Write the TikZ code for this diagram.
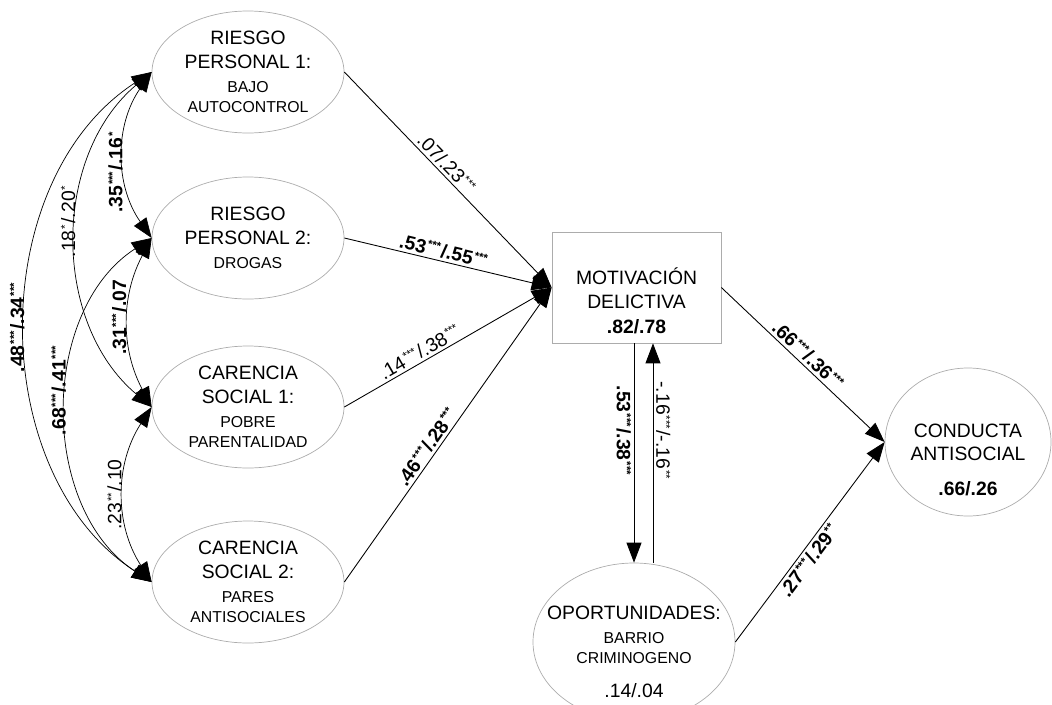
\documentclass[tikz,border=0pt]{standalone}
\usepackage{fontspec}
\setmainfont{Liberation Sans}
\usetikzlibrary{arrows.meta,shapes.geometric}

\newcommand{\sig}[1]{\kern.6pt\raisebox{.6ex}{\fontsize{6.5}{7}\selectfont#1}\kern.8pt}
\newcommand{\subtxt}[1]{{\fontsize{9}{11}\selectfont#1}}

\begin{document}
\begin{tikzpicture}[
    >={Triangle[length=0.4cm,width=0.3cm]},
    latent/.style={draw=gray!65, ellipse, minimum width=3.84cm, minimum height=2.44cm,
      inner sep=0pt, align=center, font=\fontsize{11}{13.5}\selectfont},
    obs/.style={draw=gray!65, rectangle, minimum width=3.38cm, minimum height=2.22cm},
    txt/.style={align=center, inner sep=0pt, font=\fontsize{11}{13.5}\selectfont},
    effect/.style={->, line width=0.5pt},
    lbl/.style={font=\fontsize{11}{12}\selectfont, inner sep=1.5pt},
    blbl/.style={lbl, font=\fontsize{11}{12}\selectfont\bfseries},
    arclbl/.style={rotate=90, anchor=south, inner sep=1pt}
  ]
  \useasboundingbox (0,0) rectangle (21.04,-14.08);

  % exogenous factors
  \node[latent] (rp1) at (4.96,-1.44) {RIESGO\\PERSONAL 1:\\\subtxt{BAJO}\\[-2pt]\subtxt{AUTOCONTROL}};
  \node[latent] (rp2) at (4.96,-4.76) {RIESGO\\PERSONAL 2:\\\subtxt{DROGAS}};
  \node[latent] (cs1) at (4.96,-8.14) {CARENCIA\\SOCIAL 1:\\\subtxt{POBRE}\\[-2pt]\subtxt{PARENTALIDAD}};
  \node[latent] (cs2) at (4.96,-11.64) {CARENCIA\\SOCIAL 2:\\\subtxt{PARES}\\[-2pt]\subtxt{ANTISOCIALES}};

  % mediators and outcome
  \node[obs] (mot) at (12.73,-5.75) {};
  \node[txt] (mottxt) at (12.73,-6.02) {MOTIVACIÓN\\DELICTIVA\\[1pt]\textbf{.82/.78}};

  \node[latent, minimum width=4.04cm, minimum height=3.16cm] (opp) at (12.68,-12.84) {};
  \node[txt] (opptxt) at (12.68,-13.04) {OPORTUNIDADES:\\\subtxt{BARRIO}\\[-2pt]\subtxt{CRIMINOGENO}\\[6pt].14/.04};

  \node[latent, minimum width=3.32cm, minimum height=2.96cm] (cond) at (19.36,-8.84) {};
  \node[txt] (condtxt) at (19.36,-9.19) {CONDUCTA\\ANTISOCIAL\\[6pt]\textbf{.66/.26}};

  % covariances
  \draw[<->] (rp1.west) to[bend right=35] node[blbl, arclbl, pos=.6] {.35\sig{***}/.16\sig{*}} (rp2.west);
  \draw[<->] (rp2.west) to[bend right=28] node[blbl, arclbl, pos=.47] {.31\sig{***}/.07} (cs1.west);
  \draw[<->] (cs1.west) to[bend right=33] node[lbl, arclbl] {.23\sig{**}/.10} (cs2.west);
  \draw[<->] (rp1.west) to[bend right=50] node[lbl, arclbl, pos=.45] {.18\sig{*}/.20\sig{*}} (cs1.west);
  \draw[<->] (rp2.west) to[bend right=57] node[blbl, arclbl, pos=.45] {.68\sig{***}/.41\sig{***}} (cs2.west);
  \draw[<->] (rp1.west) to[bend right=57] node[blbl, arclbl] {.48\sig{***}/.34\sig{***}} (cs2.west);

  % paths to motivation
  \draw[effect] (rp1.east) -- node[lbl, sloped, above, pos=.46] {.07/.23\sig{***}} (mot.west);
  \draw[effect] (rp2.east) -- node[blbl, sloped, above, pos=.47] {.53\sig{***}/.55\sig{***}} (mot.west);
  \draw[effect] (cs1.east) -- node[lbl, sloped, above, pos=.39] {.14\sig{***}/.38\sig{***}} (mot.west);
  \draw[effect] (cs2.east) -- node[blbl, sloped, above, pos=.44] {.46\sig{***}/.28\sig{***}} (mot.west);

  % motivation <-> opportunities
  \coordinate (upbot) at ([xshift=0.38cm]opp.north);
  \coordinate (uptop) at (upbot |- mot.south);
  \draw[effect] (mot.south -| opp.north) -- node[blbl, pos=.4, rotate=-90, anchor=north] {.53\sig{***}/.38\sig{***}} (opp.north);
  \draw[effect] (upbot) -- node[lbl, pos=.6, rotate=-90, anchor=south] {-.16\sig{***}/-.16\sig{**}} (uptop);

  % paths to antisocial behaviour
  \draw[effect] (mot.east) -- node[blbl, sloped, above, pos=.49] {.66\sig{***}/.36\sig{***}} (cond.west);
  \draw[effect] (opp.east) -- node[blbl, sloped, below, pos=.44] {.27\sig{***}/.29\sig{**}} (cond.west);
\end{tikzpicture}
\end{document}
